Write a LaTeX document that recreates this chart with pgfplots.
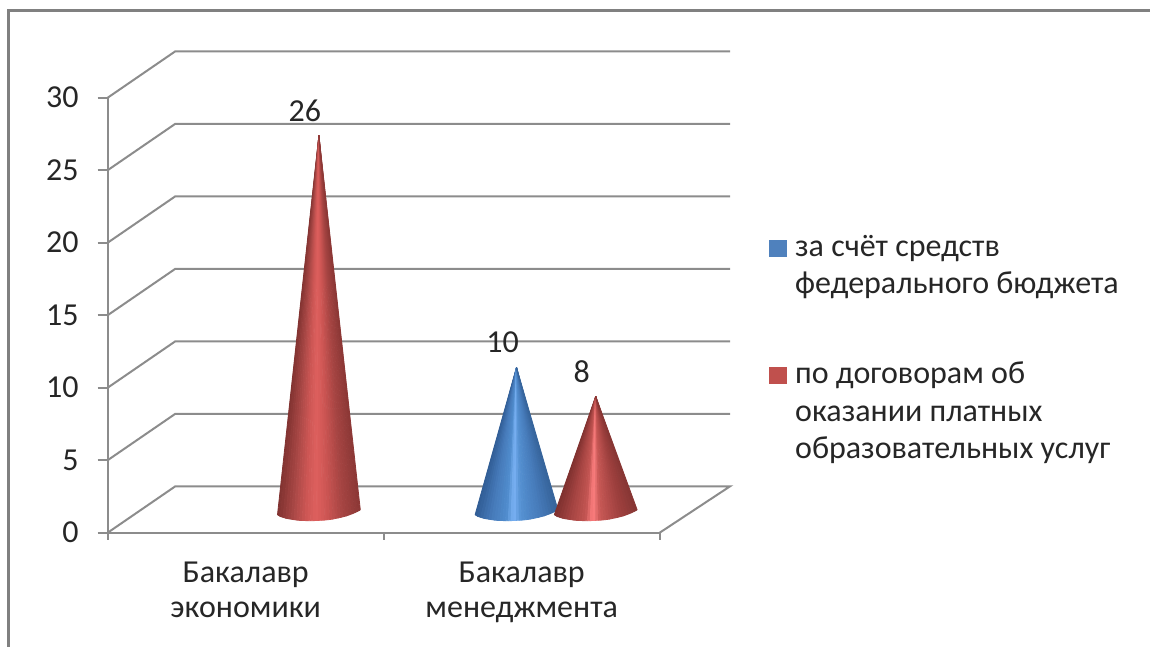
\documentclass[border=0pt]{standalone}
\usepackage{pgfplots}
\usepackage{pgfplotstable}
\usepackage{fontspec}
\setmainfont{Carlito}
\pgfplotsset{compat=1.18}
\definecolor{gridc}{HTML}{8C8C8C}
\definecolor{framec}{HTML}{808080}
\definecolor{txt}{HTML}{262626}
\definecolor{legblue}{HTML}{4F81BD}
\definecolor{legred}{HTML}{C0504D}
\pgfplotsset{
 colormap={redA}{rgb255(0cm)=(128,50,48); rgb255(2cm)=(170,72,70); rgb255(3.5cm)=(205,86,84); rgb255(4.7cm)=(222,96,94); rgb255(6cm)=(205,86,84); rgb255(8cm)=(165,68,66); rgb255(10cm)=(140,56,54)},
 colormap={blueA}{rgb255(0cm)=(48,92,148); rgb255(2cm)=(70,122,185); rgb255(3.8cm)=(80,140,205); rgb255(4.7cm)=(122,178,245); rgb255(5.6cm)=(85,145,210); rgb255(8cm)=(70,122,185); rgb255(10cm)=(54,100,155)},
 colormap={redB}{rgb255(0cm)=(125,48,46); rgb255(2cm)=(165,68,66); rgb255(3.8cm)=(195,85,82); rgb255(4.7cm)=(255,128,128); rgb255(5.6cm)=(200,88,85); rgb255(8cm)=(160,65,63); rgb255(10cm)=(135,54,52)},
}
% geometry of one cone: triangles from the apex (a=1) to the front rim of the base
\pgfplotstableread{
dx dy a c
0 0 1 .008
-.15 -.16 0 .008
-.145 -.22 0 .008
0 0 1 .025
-.145 -.22 0 .025
-.14 -.28 0 .025
0 0 1 .05
-.14 -.28 0 .05
-.13 -.34 0 .05
0 0 1 .083
-.13 -.34 0 .083
-.12 -.40 0 .083
0 0 1 .117
-.12 -.40 0 .117
-.11 -.44 0 .117
0 0 1 .15
-.11 -.44 0 .15
-.10 -.47 0 .15
0 0 1 .183
-.10 -.47 0 .183
-.09 -.50 0 .183
0 0 1 .217
-.09 -.50 0 .217
-.08 -.53 0 .217
0 0 1 .25
-.08 -.53 0 .25
-.07 -.55 0 .25
0 0 1 .283
-.07 -.55 0 .283
-.06 -.56 0 .283
0 0 1 .317
-.06 -.56 0 .317
-.05 -.565 0 .317
0 0 1 .35
-.05 -.565 0 .35
-.04 -.57 0 .35
0 0 1 .383
-.04 -.57 0 .383
-.03 -.57 0 .383
0 0 1 .417
-.03 -.57 0 .417
-.02 -.57 0 .417
0 0 1 .45
-.02 -.57 0 .45
-.01 -.56 0 .45
0 0 1 .483
-.01 -.56 0 .483
0 -.55 0 .483
0 0 1 .517
0 -.55 0 .517
.01 -.54 0 .517
0 0 1 .55
.01 -.54 0 .55
.02 -.53 0 .55
0 0 1 .583
.02 -.53 0 .583
.03 -.51 0 .583
0 0 1 .617
.03 -.51 0 .617
.04 -.49 0 .617
0 0 1 .65
.04 -.49 0 .65
.05 -.46 0 .65
0 0 1 .683
.05 -.46 0 .683
.06 -.42 0 .683
0 0 1 .717
.06 -.42 0 .717
.07 -.38 0 .717
0 0 1 .75
.07 -.38 0 .75
.08 -.34 0 .75
0 0 1 .783
.08 -.34 0 .783
.09 -.29 0 .783
0 0 1 .817
.09 -.29 0 .817
.10 -.24 0 .817
0 0 1 .85
.10 -.24 0 .85
.11 -.17 0 .85
0 0 1 .883
.11 -.17 0 .883
.12 -.10 0 .883
0 0 1 .917
.12 -.10 0 .917
.13 -.02 0 .917
0 0 1 .95
.13 -.02 0 .95
.14 .07 0 .95
0 0 1 .975
.14 .07 0 .975
.145 .12 0 .975
0 0 1 .992
.145 .12 0 .992
.15 .18 0 .992
}\conegeom
\newcommand\cone[3]{%
 \addplot[patch, patch type=triangle, shader=flat, colormap name=#3, point meta=\thisrow{c}, forget plot]
 table[x expr={\thisrow{dx}+#1+0.1232}, y expr={\thisrow{dy}+\thisrow{a}*#2+1.4}] {\conegeom};}
\newcommand\lgt[1]{\parbox[t]{170pt}{\fontsize{16}{18.75}\selectfont\color{txt}\leftskip=2pt #1\par}}
\begin{document}
\begin{tikzpicture}
\path[use as bounding box] (0pt,0pt) rectangle (575pt,323.5pt);
\draw[framec,line width=1.2pt] (4.2pt,0pt)--(4.2pt,318.2pt)--(575pt,318.2pt);
\begin{axis}[
 at={(53.85pt,57.15pt)}, anchor=south west,
 scale only axis, width=276pt, height=217.5pt,
 xmin=0, xmax=2, ymin=0, ymax=30, clip=false,
 point meta min=0, point meta max=1,
 axis x line*=bottom, axis y line*=left,
 axis line style={gridc,line width=1pt,-},
 tick style={gridc,line width=1pt},
 tick align=outside,
 xtick={0.5,1.5},
 xticklabels={{Бакалавр\\экономики},{Бакалавр\\менеджмента}},
 minor xtick={0,1,2},
 major tick length=5pt,
 minor tick length=3.5pt,
 every major x tick/.append style={draw=none},
 ytick={0,5,...,30},
 /pgf/number format/assume math mode=true,
 tick label style={font=\fontsize{16}{17.5}\selectfont, text=txt},
 xticklabel style={align=center, yshift=-6pt},
 yticklabel style={xshift=-6pt},
 legend style={at={(1.198,0.694)}, anchor=north west, draw=none, fill=none, inner sep=0pt,
   row sep=50.5pt, cells={anchor=north west}},
 legend cell align=left,
]
% back wall and side gridlines
\addplot[gridc,line width=1pt,forget plot] coordinates {(0,0)(0.245,3.2)(2.255,3.2)(2,0)};
\addplot[gridc,line width=1pt,forget plot] coordinates {(0,5)(0.245,8.2)(2.255,8.2)};
\addplot[gridc,line width=1pt,forget plot] coordinates {(0,10)(0.245,13.2)(2.255,13.2)};
\addplot[gridc,line width=1pt,forget plot] coordinates {(0,15)(0.245,18.2)(2.255,18.2)};
\addplot[gridc,line width=1pt,forget plot] coordinates {(0,20)(0.245,23.2)(2.255,23.2)};
\addplot[gridc,line width=1pt,forget plot] coordinates {(0,25)(0.245,28.2)(2.255,28.2)};
\addplot[gridc,line width=1pt,forget plot] coordinates {(0,30)(0.245,33.2)(2.255,33.2)};
% cones
\cone{0.642}{26}{redA}
\cone{1.358}{10}{blueA}
\cone{1.645}{8}{redB}
% value labels
\addplot[draw=none, forget plot, nodes near coords, point meta=y,
  every node near coord/.append style={anchor=center, xshift=10pt, yshift=22.5pt,
  font=\fontsize{16}{17}\selectfont, text=txt, /pgf/number format/assume math mode=true}]
  coordinates {(0.642,26)(1.358,10)(1.645,8)};
% legend
\addlegendimage{legend image code/.code={\fill[legblue] (0pt,-10pt) rectangle (8.5pt,-2pt);}}
\addlegendentry{\lgt{за счёт средств\\федерального бюджета}}
\addlegendimage{legend image code/.code={\fill[legred] (0pt,-10pt) rectangle (8.5pt,-2pt);}}
\addlegendentry{\lgt{по договорам об\\оказании платных\\образовательных услуг}}
\end{axis}
\end{tikzpicture}
\end{document}
